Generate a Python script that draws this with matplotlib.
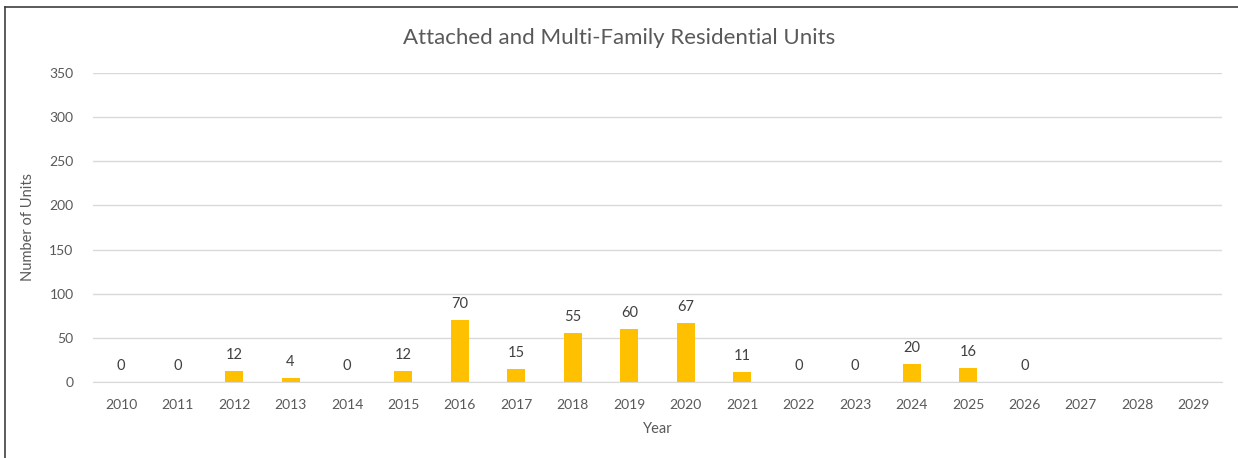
import matplotlib
matplotlib.use('Agg')
import matplotlib.pyplot as plt
from matplotlib.lines import Line2D

plt.rcParams['font.family'] = ['Lato', 'DejaVu Sans']

# data
years = [str(y) for y in range(2010, 2030)]
units = [0, 0, 12, 4, 0, 12, 70, 15, 55, 60, 67, 11, 0, 0, 20, 16, 0, None, None, None]
y_ticks = [0, 50, 100, 150, 200, 250, 300, 350]

text_color = '#595959'
bar_color = '#FFC000'

fig = plt.figure(figsize=(12.38, 4.58), dpi=100)
ax = fig.add_axes([0.0751, 0.166, 0.912, 0.6746])

xs = list(range(len(years)))
heights = [u if u is not None else 0 for u in units]
bars = ax.bar(xs, heights, width=0.32, color=bar_color, zorder=3)

for x, u in zip(xs, units):
    if u is None:
        continue
    ax.annotate(str(u), (x, u), xytext=(0, 6.5), textcoords='offset points',
                ha='center', va='bottom', fontsize=10.5, color='#404040')

ax.set_xlim(-0.5, len(years) - 0.5)
ax.set_ylim(0, 350)
ax.set_yticks(y_ticks)
ax.set_xticks(xs)
ax.set_xticklabels(years)
ax.tick_params(axis='both', length=0, labelsize=10, colors=text_color, pad=12)
ax.tick_params(axis='y', pad=14)
ax.grid(axis='y', color='#D9D9D9', linewidth=1, zorder=0)
for s in ['top', 'right', 'left']:
    ax.spines[s].set_visible(False)
ax.spines['bottom'].set_color('#D9D9D9')

ax.set_xlabel('Year', fontsize=10.5, color=text_color, labelpad=8)
ax.set_ylabel('Number of Units', fontsize=10.5, color=text_color, labelpad=10)
fig.text(0.5, 0.917, 'Attached and Multi-Family Residential Units',
         ha='center', va='center', fontsize=16, color=text_color)

# chart border (top and left visible)
fig.add_artist(Line2D([5 / 1238, 5 / 1238], [0, 1 - 7 / 458], transform=fig.transFigure,
                      color='#404040', linewidth=1.2))
fig.add_artist(Line2D([5 / 1238, 1], [1 - 7 / 458, 1 - 7 / 458], transform=fig.transFigure,
                      color='#404040', linewidth=1.2))

fig.savefig('out.png', dpi=100)
